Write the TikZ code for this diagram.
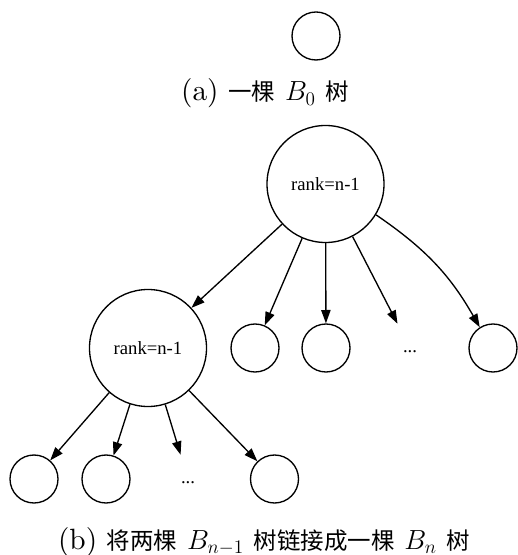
\documentclass[tikz,border=0pt]{standalone}
\usepackage{fontspec}
\setmainfont{lmroman10-regular.otf}
\newfontfamily\cjk{Noto Sans CJK SC}[Scale=0.8]
\newfontfamily\gvfont{Liberation Serif}
\usetikzlibrary{arrows.meta}
\newcommand\zh[1]{{\cjk #1}}
\begin{document}
\begin{tikzpicture}[x=0.75pt,y=-0.75pt,
  leaf/.style={circle,draw,line width=1pt,minimum size=36pt,inner sep=0pt},
  bignode/.style={circle,draw,line width=1pt,minimum size=87.75pt,inner sep=0pt,font=\gvfont\fontsize{14}{16}\selectfont},
  dotsnode/.style={rectangle,minimum width=54pt,minimum height=36pt,inner sep=0pt,text height=10pt,text depth=3pt,font=\gvfont\fontsize{14}{16}\selectfont},
  edge/.style={line width=1pt,-{Triangle[length=10pt,width=7pt]}},
  captionstyle/.style={font=\fontsize{22}{26}\selectfont,anchor=base,inner sep=0pt}]
\useasboundingbox (0,0) rectangle (517,555);
% (a)
\node[leaf] (b0) at (316,36) {};
\node[captionstyle] (capa) at (265,101) {(a) \zh{一棵} $B_0$ \zh{树}};
% (b)
\node[bignode] (root) at (325.5,184) {rank=n-1};
\node[bignode] (sub) at (148,348) {rank=n-1};
\node[leaf] (c1) at (255,348) {};
\node[leaf] (c2) at (326,348) {};
\node[dotsnode] (d1) at (410,348) {...};
\node[leaf] (c4) at (493,348) {};
\node[leaf] (e1) at (34,479) {};
\node[leaf] (e2) at (106,479) {};
\node[dotsnode] (d2) at (188,479) {...};
\node[leaf] (e4) at (274.5,479) {};
\draw[edge] (root) -- (sub);
\draw[edge] (root) -- (c1);
\draw[edge] (root) -- (c2);
\draw[edge] (root) -- (d1);
\draw[edge] (root) to[bend left=13] (c4);
\draw[edge] (sub) -- (e1);
\draw[edge] (sub) -- (e2);
\draw[edge] (sub) -- (d2);
\draw[edge] (sub) -- (e4);
\node[captionstyle] (capb) at (264,549) {(b) \zh{将两棵} $B_{n-1}$ \zh{树链接成一棵} $B_n$ \zh{树}};
\end{tikzpicture}
\end{document}
